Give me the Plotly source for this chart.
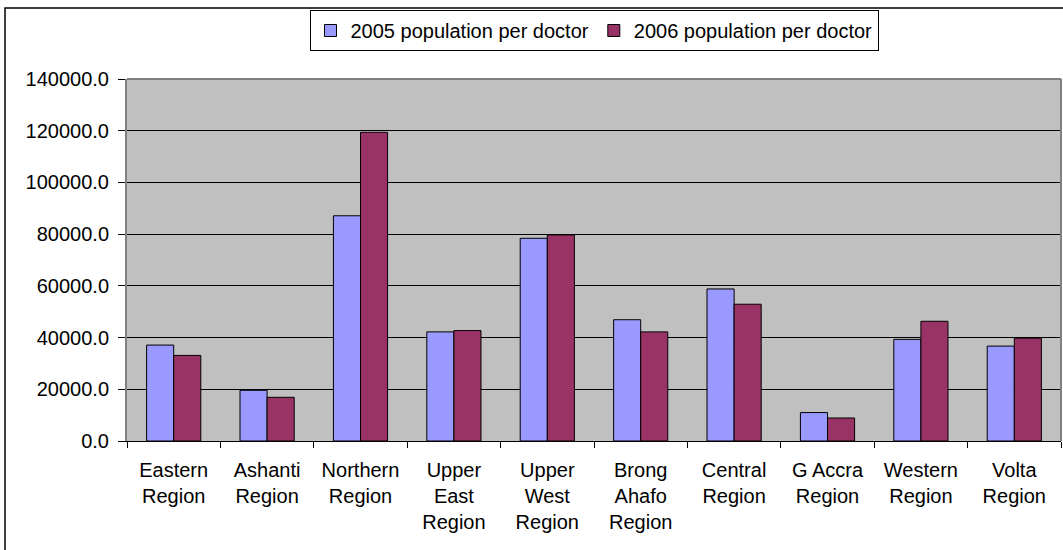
import plotly.graph_objects as go

# Population per doctor by region, Ghana
regions = [
    "Eastern<br>Region", "Ashanti<br>Region", "Northern<br>Region",
    "Upper<br>East<br>Region", "Upper<br>West<br>Region",
    "Brong<br>Ahafo<br>Region", "Central<br>Region", "G Accra<br>Region",
    "Western<br>Region", "Volta<br>Region",
]
pop_per_doctor_2005 = [37100, 19600, 87100, 42200, 78400, 46900, 58800, 11000, 39300, 36700]
pop_per_doctor_2006 = [33100, 16900, 119400, 42700, 79700, 42200, 52900, 8900, 46300, 39800]

series_names = ["2005 population per doctor", "2006 population per doctor"]
series_colors = ["#9999FF", "#993366"]

y_ticks = list(range(0, 140001, 20000))

font_family = "Liberation Sans, Arial, sans-serif"

fig = go.Figure()
for name, vals, col in zip(series_names,
                           [pop_per_doctor_2005, pop_per_doctor_2006],
                           series_colors):
    fig.add_trace(go.Bar(
        x=regions, y=vals, name=name,
        marker=dict(color=col, line=dict(color="#000000", width=1)),
    ))

fig.update_layout(
    width=1063, height=550,
    margin=dict(l=127, r=2, t=79, b=109),
    paper_bgcolor="#FFFFFF",
    plot_bgcolor="#C0C0C0",
    barmode="group",
    bargap=0.42,
    bargroupgap=0.0,
    font=dict(family=font_family, size=20, color="#000000"),
    legend=dict(
        orientation="h",
        x=0.5, xanchor="center",
        y=1.134, yanchor="middle",
        bgcolor="#FFFFFF",
        bordercolor="#000000", borderwidth=1,
        font=dict(size=20),
        itemwidth=30,
        tracegroupgap=0,
    ),
    showlegend=True,
)

fig.update_xaxes(
    showgrid=False,
    showline=True, linecolor="#000000", linewidth=1,
    ticks="outside", ticklen=6, tickcolor="#000000",
    tickson="boundaries",
    tickangle=0,
    ticklabelstandoff=11,
)
fig.update_yaxes(
    range=[0, 140000],
    tickvals=y_ticks,
    tickformat=".1f",
    showgrid=True, gridcolor="#000000", gridwidth=1,
    showline=True, linecolor="#808080", linewidth=2,
    ticks="outside", ticklen=7, tickcolor="#000000",
    ticklabelstandoff=5,
    zeroline=False,
)

# Plot-area frame on the top and right edges
fig.add_shape(type="line", xref="paper", yref="paper",
              x0=0, x1=1, y0=1, y1=1,
              line=dict(color="#808080", width=2))
fig.add_shape(type="line", xref="paper", yref="paper",
              x0=1, x1=1, y0=0, y1=1,
              line=dict(color="#808080", width=2))

# Outer chart border
fig.add_shape(type="rect", xref="paper", yref="paper",
              x0=-0.1306, x1=1.2, y0=-0.6, y1=1.196,
              line=dict(color="#000000", width=1.5),
              fillcolor="rgba(0,0,0,0)", layer="above")

fig.write_html("out.html")
